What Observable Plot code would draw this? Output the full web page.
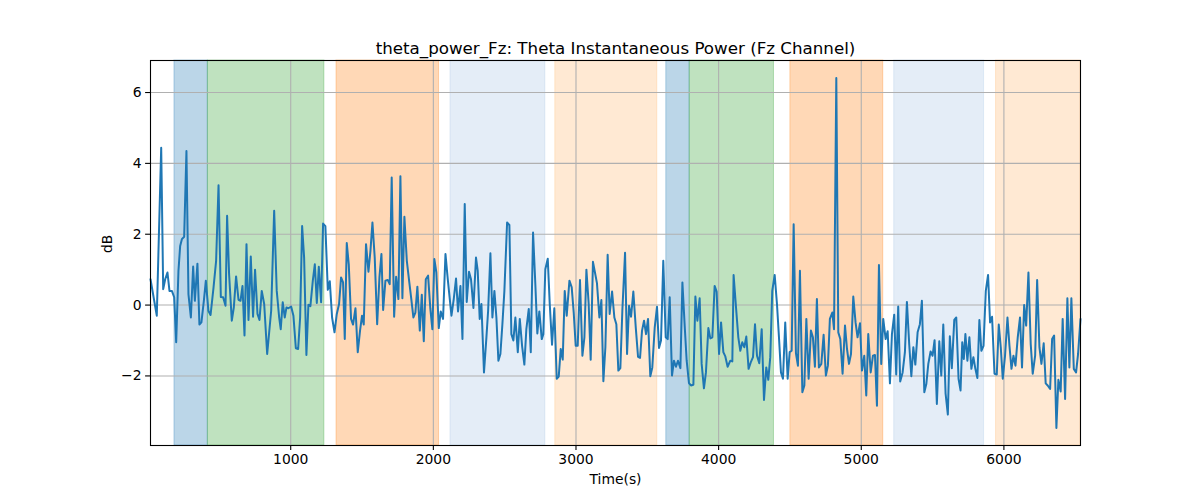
<!DOCTYPE html>
<html>
<head>
<meta charset="utf-8">
<script src="https://cdn.jsdelivr.net/npm/d3@7"></script>
<script src="https://cdn.jsdelivr.net/npm/@observablehq/plot@0.6"></script>
<style>
  body { margin: 0; background: #fff; }
  #chart svg { display: block; }
</style>
</head>
<body>
<div id="chart"></div>
<script>
// valores (tiempo en s, potencia en dB)
const times = [
  17, 61, 92, 106, 120, 136, 150, 167, 183, 197, 213, 225, 237, 253, 269, 283, 300, 316, 328, 346,
  360, 374, 391, 405, 423, 438, 459, 477, 494, 510, 526, 543, 554, 568, 587, 601, 617, 634, 648, 662,
  676, 690, 704, 720, 736, 750, 767, 781, 797, 814,
  835, 863, 884, 902, 919, 930, 944, 958, 970, 984, 1003, 1019, 1036, 1052, 1066, 1080, 1094, 1110, 1124, 1138,
  1155, 1169, 1183, 1197, 1213, 1227, 1243, 1260, 1274, 1290, 1307, 1323, 1339, 1353, 1367, 1379, 1393, 1407, 1423, 1437,
  1454, 1470, 1486, 1500, 1512, 1528, 1545, 1559, 1573, 1589, 1606, 1622, 1636,
  1648, 1664, 1680, 1694, 1708, 1725, 1739, 1755, 1769, 1783, 1797, 1814, 1830, 1844, 1860, 1874, 1888, 1905, 1919, 1933,
  1947, 1963, 1979, 1993, 2007, 2021, 2038, 2052, 2068, 2085, 2101, 2127, 2143, 2159, 2173, 2190, 2204, 2220, 2234, 2250,
  2264, 2281, 2299, 2311, 2325, 2337, 2355, 2372, 2384, 2400, 2414, 2428, 2442,
  2456, 2470, 2484, 2498, 2517, 2533, 2547, 2561, 2575, 2592, 2606, 2622, 2638, 2652, 2669, 2683, 2699, 2715, 2729, 2743,
  2760, 2771, 2785, 2802, 2816, 2832, 2848, 2865, 2879, 2893, 2907, 2921, 2935, 2954, 2970, 2984, 2998, 3012, 3028, 3045,
  3059, 3073, 3089, 3103, 3119, 3133, 3147, 3164, 3178, 3192, 3206, 3222, 3236, 3253,
  3269, 3283, 3297, 3311, 3325, 3344, 3358, 3372, 3386, 3402, 3419, 3435, 3449, 3463, 3477, 3491, 3505, 3521, 3535, 3552,
  3568, 3582, 3596, 3612, 3629, 3643, 3657, 3673, 3687, 3701, 3715, 3732, 3746, 3762, 3776, 3792, 3806, 3823, 3837, 3851,
  3867, 3881, 3897, 3911, 3928, 3942, 3956, 3972, 3986, 4003, 4017, 4033, 4047, 4063,
  4082, 4096, 4105, 4122, 4138, 4152, 4166, 4180, 4194, 4210, 4225, 4241, 4255, 4269, 4285, 4302, 4318, 4334, 4348, 4362,
  4376, 4393, 4409, 4423, 4437, 4451, 4467, 4484, 4498, 4512, 4526, 4542, 4556, 4570, 4587, 4601, 4615, 4631, 4647, 4661,
  4675, 4689, 4703, 4720, 4736, 4752, 4766, 4780, 4797, 4809, 4825, 4839, 4853, 4869, 4886,
  4900, 4914, 4928, 4944, 4960, 4974, 4991, 5005, 5021, 5035, 5049, 5066, 5082, 5096, 5110, 5124, 5140, 5154, 5171, 5185,
  5201, 5215, 5231, 5245, 5259, 5273, 5290, 5306, 5320, 5336, 5351, 5365, 5379, 5395, 5411, 5425, 5442, 5456, 5470, 5486,
  5500, 5514, 5530, 5547, 5561, 5575, 5591, 5607, 5621, 5635, 5652, 5666, 5682, 5696, 5708,
  5719, 5730, 5744, 5758, 5772, 5786, 5800, 5814, 5828, 5842, 5857, 5873, 5889, 5903, 5917, 5934, 5950, 5964, 5978, 5992,
  6008, 6025, 6039, 6053, 6067, 6081, 6097, 6113, 6127, 6142, 6156, 6172, 6188, 6202, 6219, 6233, 6249, 6263, 6279, 6293,
  6307, 6324, 6338, 6352, 6368, 6382, 6398, 6412, 6429, 6445, 6459, 6473, 6490, 6506, 6520, 6537
]
const power = [
  0.73, -0.30, 4.44, 0.45, 0.73, 0.92, 0.40, 0.40, 0.22, -1.05, 0.97, 1.67, 1.86, 1.93, 4.35, 0.31, -0.35, 1.09, 0.12, 1.17,
  -0.55, -0.49, 0.12, 0.69, -0.16, -0.28, 0.50, 1.25, 3.38, 0.23, 0.22, -0.02, 2.52, 0.87, -0.44, -0.07, 0.81, 0.15, 0.12, 0.54,
  -0.86, 1.72, -0.42, 1.37, -0.33, 1.00, -0.25, -0.42, 0.40, 0.03,
  -1.38, -0.16, 2.66, 0.40, -0.35, -0.68, 0.08, -0.35, -0.07, -0.09, -0.04, -0.30, -1.22, -1.24, -0.35, 2.23, 1.34, -1.41, 0.01, -0.03,
  0.69, 1.15, 0.06, 1.08, 0.08, 2.30, 2.23, 0.43, 0.67, -0.35, -0.77, -0.25, 0.03, 0.78, 0.64, -0.96, 1.75, 1.15, -0.39, -0.55,
  -0.09, -1.33, -0.72, -0.30, -0.55, 1.72, 0.94, 1.53, 2.33, 1.34, -0.54, 0.78, 1.44,
  -0.14, 0.69, 0.71, 0.59, 3.60, -0.33, 0.80, 0.17, 3.64, 0.19, 2.49, 1.25, 0.69, 0.22, -0.35, -0.21, 0.52, -0.72, 0.29, -1.02,
  0.73, 0.83, -0.11, -0.68, 1.30, 0.92, -0.65, -0.18, -0.39, 1.44, 0.73, -0.30, 0.17, 0.75, -0.18, 0.54, -0.96, 2.85, 0.09, 0.94,
  0.73, -0.08, 1.34, 0.97, -0.39, 0.03, -1.90, -0.91, -0.16, 1.46, -0.35, 0.40, -0.35,
  -1.57, -1.38, -0.54, 0.40, 2.33, 2.26, -0.82, -1.00, -0.35, -1.33, -0.39, -1.15, -1.68, -0.68, -0.11, -1.33, 2.05, 0.59, -0.80, -0.18,
  -0.96, -0.82, 1.01, 1.31, 0.03, -1.12, -0.09, -2.08, -2.02, -1.24, -1.54, 0.40, -0.30, 0.69, 0.50, -0.21, -1.15, -1.15, 0.71, -1.43,
  -0.91, 1.00, 0.03, -1.54, 1.22, 0.92, 0.62, -0.35, 0.14, -2.15, -1.19, 1.42, -0.25, 0.38,
  -0.35, -0.54, -1.85, -1.78, -0.16, 1.48, -1.38, -0.02, -0.33, 0.38, -0.63, -1.46, -1.49, -0.72, -0.44, -0.82, -0.39, -2.01, -1.76, -0.63,
  -0.05, -1.21, -1.00, 1.25, -0.91, -0.96, 0.22, -1.99, -1.57, -1.74, -1.57, -1.78, 0.64, -0.58, -1.57, -2.20, -2.27, -2.25, 0.24, -0.44,
  0.19, -1.66, -2.35, -1.90, -0.65, -0.94, -0.91, 0.54, 0.38, -1.38, -0.49, -1.33, -1.45, -1.74,
  -1.57, -1.59, 0.85, -0.07, -0.91, -1.29, -1.05, -1.19, -0.89, -1.80, -1.62, -1.47, -0.54, -1.43, -1.64, -0.68, -2.68, -1.76, -2.11, -1.47,
  0.40, 0.85, 0.03, -0.91, -1.90, -2.08, -0.49, -2.08, -1.33, -1.29, 2.28, -1.36, -1.71, 0.97, -2.46, -2.27, -0.39, -2.08, -0.72, -0.91,
  -1.74, 0.17, -1.76, -1.66, -0.84, -1.99, -1.71, -0.39, -0.21, -0.68, 6.41, -0.77, -0.96, -1.94, -0.58,
  -1.24, -1.66, -1.38, 0.24, -0.49, -0.91, -0.51, -1.85, -1.43, -2.55, -0.82, -1.90, -1.43, -1.41, -2.84, 1.13, -1.66, -0.39, -0.96, -0.74,
  -2.21, -0.82, -0.27, -1.96, -0.04, -2.16, -1.90, -1.33, 0.09, -1.10, -2.01, -1.19, -1.68, -0.77, -0.54, 0.12, -2.46, -2.23, -1.66, -1.31,
  -1.43, -0.99, -2.79, -1.02, -1.99, -0.55, -2.49, -3.09, -0.88, -1.78, -0.42, -0.35, -2.08, -2.41, -1.05,
  -1.52, -0.82, -1.57, -0.91, -1.80, -1.47, -1.80, -2.06, -0.42, -1.29, -1.15, 0.40, 0.85, -0.49, -0.33, -1.94, -1.96, -0.55, -1.19, -2.08,
  -1.43, -0.35, -1.15, -1.80, -1.43, -1.71, -0.91, -0.35, -1.76, 0.00, -0.58, 0.92, -1.10, -1.94, -1.43, 0.71, -1.19, -1.66, -1.08, -2.21,
  -2.27, -2.37, -0.96, -0.86, -3.47, -2.11, -2.44, -0.39, -2.65, 0.19, -1.76, 0.19, -1.80, -1.90, -1.38, -0.39
]

// franjas sombreadas (inicio, fin, tipo)
const bandStart = [185, 419, 1321, 2120, 2855, 3633, 3797, 4503, 5231, 5945]
const bandEnd = [419, 1236, 2040, 2785, 3570, 3797, 4388, 5154, 5861, 6537]
const bandKind = ["A", "B", "C", "D", "E", "A", "B", "C", "D", "E"]

const xTicks = [1000, 2000, 3000, 4000, 5000, 6000]
const yTicks = [-2, 0, 2, 4, 6]

const bandColor = {A: "#1f77b4", B: "#2ca02c", C: "#ff7f0e", D: "#aec7e8", E: "#ffbb78"}
const bandAlpha = {A: 0.3, B: 0.3, C: 0.3, D: 0.33, E: 0.33}

const serie = times.map((t, i) => ({t, v: power[i]}))
const bands = bandStart.map((s, i) => ({x1: s, x2: bandEnd[i], kind: bandKind[i]}))

const [vmin, vmax] = d3.extent(power)
const pad = (vmax - vmin) * 0.05

const font = "DejaVu Sans, sans-serif"

const chart = Plot.plot({
  width: 1200,
  height: 500,
  marginLeft: 150,
  marginRight: 120,
  marginTop: 60,
  marginBottom: 55,
  style: {fontFamily: font, fontSize: "13.9px", color: "black", background: "white"},
  x: {domain: d3.extent(times)},
  y: {domain: [vmin - pad, vmax + pad]},
  marks: [
    Plot.rectX(bands, {
      x1: "x1", x2: "x2", y1: vmin - pad, y2: vmax + pad,
      fill: d => bandColor[d.kind], fillOpacity: d => bandAlpha[d.kind],
      stroke: d => bandColor[d.kind], strokeOpacity: d => bandAlpha[d.kind], strokeWidth: 1
    }),
    Plot.gridX(xTicks, {stroke: "#b0b0b0", strokeOpacity: 1, strokeWidth: 1.1}),
    Plot.gridY(yTicks, {stroke: "#b0b0b0", strokeOpacity: 1, strokeWidth: 1.1}),
    Plot.line(serie, {x: "t", y: "v", stroke: "#1f77b4", strokeWidth: 2}),
    Plot.axisX(xTicks, {tickSize: 4.9, tickPadding: 4, tickFormat: "d", label: null, fontSize: 13.9, strokeWidth: 1.1}),
    Plot.axisY(yTicks, {tickSize: 4.9, tickPadding: 4, label: null, fontSize: 13.9, strokeWidth: 1.1}),
    Plot.frame({stroke: "black", strokeWidth: 1.1}),
    Plot.text(["theta_power_Fz: Theta Instantaneous Power (Fz Channel)"], {
      frameAnchor: "top", dy: -7, lineAnchor: "bottom", fontSize: 16.7
    }),
    Plot.text(["Time(s)"], {frameAnchor: "bottom", dy: 29, lineAnchor: "top", fontSize: 13.9}),
    Plot.text(["dB"], {frameAnchor: "left", dx: -43, rotate: -90, fontSize: 13.9})
  ]
})

document.getElementById("chart").append(chart)
</script>
</body>
</html>
